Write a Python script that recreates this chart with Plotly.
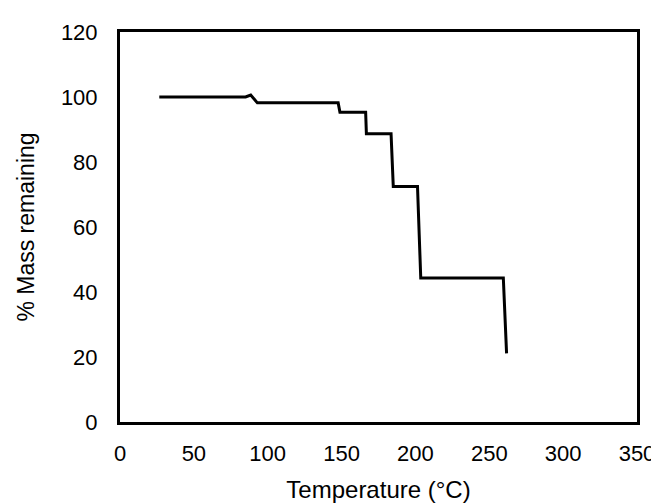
import plotly.graph_objects as go

temperature_c = [26.6, 85, 88.5, 93, 147.7, 148.9, 166.3, 166.8, 183.5, 185, 201.4, 203.6, 259.5, 261.7]
mass_remaining = [100, 100, 100.6, 98.2, 98.2, 95.3, 95.3, 88.7, 88.7, 72.5, 72.5, 44.3, 44.3, 21.1]

x_ticks = [0, 50, 100, 150, 200, 250, 300, 350]
y_ticks = [0, 20, 40, 60, 80, 100, 120]

fig = go.Figure()
fig.add_trace(go.Scatter(
    x=temperature_c, y=mass_remaining, mode="lines",
    line=dict(color="black", width=3), showlegend=False,
))

font_family = "Liberation Sans, Arial, sans-serif"
fig.update_layout(
    width=659, height=503,
    margin=dict(l=112, r=24, t=21, b=74),
    paper_bgcolor="white", plot_bgcolor="white",
    font=dict(family=font_family, color="black", size=22),
)
fig.update_xaxes(
    range=[0, 350], tickvals=x_ticks, ticktext=[str(v) for v in x_ticks],
    showgrid=False, zeroline=False, showline=True, mirror=True,
    linecolor="black", linewidth=3, ticks="", ticklabelstandoff=10,
    tickfont=dict(size=22),
    title=dict(text="Temperature (°C)", font=dict(size=24), standoff=16),
)
fig.update_yaxes(
    range=[0, 120], tickvals=y_ticks, ticktext=[str(v) for v in y_ticks],
    showgrid=False, zeroline=False, showline=True, mirror=True,
    linecolor="black", linewidth=3, ticks="", ticklabelstandoff=15,
    tickfont=dict(size=22),
    title=dict(text="% Mass remaining", font=dict(size=23), standoff=20),
)

fig.write_html("out.html")
